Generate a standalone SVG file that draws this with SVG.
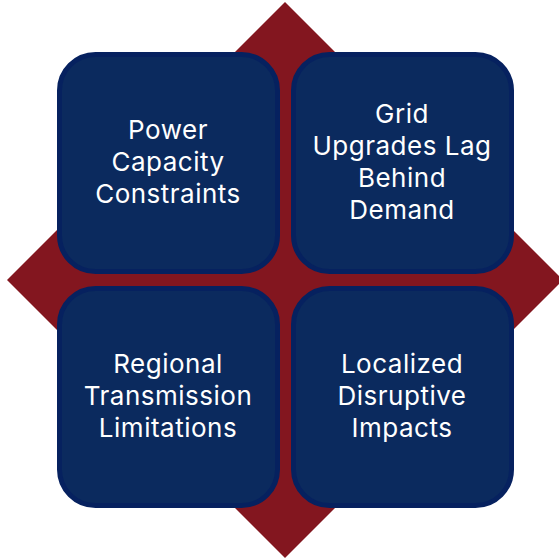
<svg xmlns="http://www.w3.org/2000/svg" width="559" height="558" viewBox="0 0 559 558">
  <style>
    .tile rect { fill: #0b2a5e; stroke: #06215f; stroke-width: 5; }
    .tile text { fill: #ffffff; font-family: Inter, "Open Sans", "Liberation Sans", sans-serif; font-size: 26px; letter-spacing: 0.5px; text-anchor: middle; }
  </style>
  <rect width="559" height="558" fill="#ffffff"/>
  <!-- background diamond -->
  <polygon points="285,2 563,280 285,558 7,280" fill="#83161f"/>
  <g id="power-capacity" class="tile">
    <rect x="59.5" y="54.5" width="218" height="217" rx="36"/>
    <text x="168" y="139">Power</text>
    <text x="168" y="171">Capacity</text>
    <text x="168" y="203">Constraints</text>
  </g>
  <g id="grid-upgrades" class="tile">
    <rect x="293.5" y="54.5" width="218" height="217" rx="36"/>
    <text x="402" y="123">Grid</text>
    <text x="402" y="155">Upgrades Lag</text>
    <text x="402" y="187">Behind</text>
    <text x="402" y="219">Demand</text>
  </g>
  <g id="regional-transmission" class="tile">
    <rect x="59.5" y="288.5" width="218" height="217" rx="36"/>
    <text x="168" y="373">Regional</text>
    <text x="168" y="405">Transmission</text>
    <text x="168" y="437">Limitations</text>
  </g>
  <g id="localized-impacts" class="tile">
    <rect x="293.5" y="288.5" width="218" height="217" rx="36"/>
    <text x="402" y="373">Localized</text>
    <text x="402" y="405">Disruptive</text>
    <text x="402" y="437">Impacts</text>
  </g>
  <g id="connectors"></g>
</svg>
